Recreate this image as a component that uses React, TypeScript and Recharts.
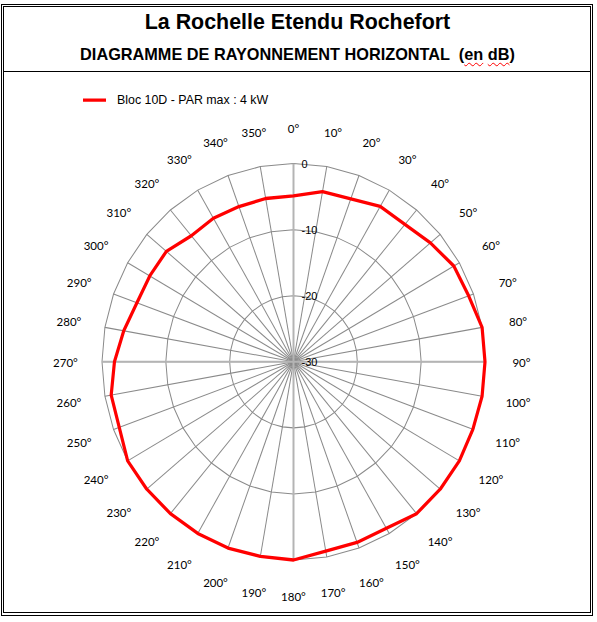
import React from 'react';
import { RadarChart, Radar, PolarGrid, PolarAngleAxis, PolarRadiusAxis, Legend } from 'recharts';

// Categories: bearing in degrees (clockwise from north)
const ANGLES = [0, 10, 20, 30, 40, 50, 60, 70, 80, 90, 100, 110, 120, 130, 140, 150, 160, 170,
  180, 190, 200, 210, 220, 230, 240, 250, 260, 270, 280, 290, 300, 310, 320, 330, 340, 350];

// Series: attenuation in dB for each bearing
const LEVEL_DB = [-4.9, -3.85, -3.75, -2.85, -2.85, -2.0, -1.0, -0.8, 0, 0, 0, -0.1, 0, 0, 0, -0.9, -0.9, -0.9,
  0, -0.1, 0, 0, 0, 0, 0, -0.95, -1.0, -1.95, -3.0, -3.9, -4.0, -4.0, -5.1, -4.9, -5.0, -4.9];

const RADIUS_TICKS = [-30, -20, -10, 0];
const MAIN_AXES = [90, 0, -90, 180];

const SERIES_NAME = 'Bloc 10D - PAR max : 4 kW';
const TITLE = 'La Rochelle Etendu Rochefort';

const data = ANGLES.map((a, i) => ({ angle: a, db: LEVEL_DB[i] }));

const CX = 293.5;
const CY = 361.8;
const R = 191.5;
const SY = 1.035;
const LABEL_RX = 228;
const LABEL_RY = 226;

const AngleTick = (props: any) => {
  const { payload } = props;
  const a = (payload.coordinate * Math.PI) / 180;
  const x = CX + LABEL_RX * Math.cos(a);
  const y = CY - LABEL_RY * Math.sin(a);
  return (
    <text x={x} y={y} textAnchor="middle" dominantBaseline="central"
      fontFamily="Lato, 'Open Sans', sans-serif" fontSize={11.5} fill="#000">
      {`${payload.value}°`}
    </text>
  );
};

const RadiusTick = (props: any) => {
  const { x, y, payload } = props;
  return (
    <text x={x + 8} y={y} textAnchor="start" dominantBaseline="central"
      fontFamily="'Liberation Sans', Arial, sans-serif" fontSize={11} fill="#000">
      {payload.value}
    </text>
  );
};

const LegendContent = (props: any) => {
  const items = props.payload || [];
  return (
    <div>
      {items.map((it: any, i: number) => (
        <div key={i} style={{ display: 'flex', alignItems: 'center', height: 14 }}>
          <svg width={23} height={4} style={{ marginRight: 11 }}>
            <line x1={0} y1={2} x2={23} y2={2} stroke={it.color || '#ff0000'} strokeWidth={3} />
          </svg>
          <span style={{ fontFamily: "'Liberation Sans', Arial, sans-serif", fontSize: 12.4, color: '#000', lineHeight: '14px', whiteSpace: 'pre' }}>
            {it.value}
          </span>
        </div>
      ))}
    </div>
  );
};

const wavy: React.CSSProperties = {
  textDecorationLine: 'underline',
  textDecorationStyle: 'wavy',
  textDecorationColor: '#ff0000',
  textDecorationThickness: '1px',
  textUnderlineOffset: '2px',
};

export default function App() {
  const legendCenterPre = CY + (100 - CY) / SY;
  return (
    <div style={{ position: 'absolute', left: 0, top: 0, width: 597, height: 622, background: '#fff', overflow: 'hidden' }}>
      {/* frame */}
      <div style={{ position: 'absolute', left: 1, top: 4, width: 592, height: 612, border: '1px solid #000', boxSizing: 'border-box' }} />
      <div style={{ position: 'absolute', left: 3, top: 6, width: 588, height: 607, border: '1px solid #000', boxSizing: 'border-box' }} />
      <div style={{ position: 'absolute', left: 3, top: 71, width: 588, height: 1, background: '#000' }} />

      <div style={{ position: 'absolute', left: 0, top: 10, width: 595, textAlign: 'center', fontFamily: "'Liberation Sans', Arial, sans-serif", fontWeight: 'bold', fontSize: 21.4, lineHeight: '24px', color: '#000' }}>
        {TITLE}
      </div>
      <div style={{ position: 'absolute', left: 0, top: 44, width: 595, textAlign: 'center', fontFamily: "'Liberation Sans', Arial, sans-serif", fontWeight: 'bold', fontSize: 16.3, lineHeight: '20px', color: '#000', whiteSpace: 'pre' }}>
        {'DIAGRAMME DE RAYONNEMENT HORIZONTAL  ('}
        <span style={wavy}>en</span>
        {' '}
        <span style={wavy}>dB</span>
        {')'}
      </div>

      <div style={{ position: 'absolute', left: 0, top: 0, width: 597, height: 622, transform: `scaleY(${SY})`, transformOrigin: `0px ${CY}px` }}>
        <RadarChart width={597} height={622} data={data} cx={CX} cy={CY} outerRadius={R}
          margin={{ top: 0, right: 0, bottom: 0, left: 0 }}>
          <PolarGrid gridType="polygon" stroke="#8a8a8a" strokeWidth={1} />
          <PolarGrid gridType="polygon" polarAngles={MAIN_AXES} polarRadius={[]} stroke="#b4b4b4" strokeWidth={2} />
          <PolarAngleAxis dataKey="angle" tick={AngleTick} tickLine={false} axisLine={false} />
          <PolarRadiusAxis angle={90} domain={[-30, 0]} ticks={RADIUS_TICKS} tickCount={4} type="number"
            axisLine={false} tickLine={false} tick={RadiusTick} allowDataOverflow />
          <Radar name={SERIES_NAME} dataKey="db" stroke="#ff0000" strokeWidth={3.2} strokeLinejoin="round"
            fill="none" fillOpacity={0} dot={false} isAnimationActive={false} />
          <Legend content={LegendContent}
            wrapperStyle={{ position: 'absolute', left: 83, top: legendCenterPre - 7, width: 'auto', height: 14 }} />
        </RadarChart>
      </div>
    </div>
  );
}
